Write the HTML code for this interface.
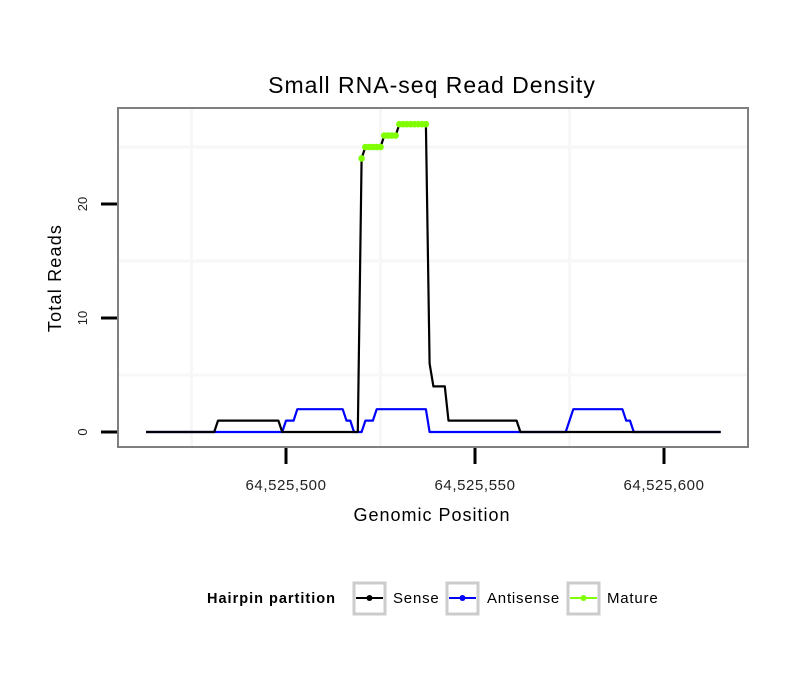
<!DOCTYPE html>
<html><head><meta charset="utf-8"><style>
body{margin:0;background:#fff;}
svg text{font-family:"Liberation Sans",sans-serif;}
</style></head><body>
<svg id="chart" width="810" height="690" xmlns="http://www.w3.org/2000/svg">
<rect width="810" height="690" fill="#fff"/>
<text x="432" y="93" text-anchor="middle" font-size="23" letter-spacing="1" fill="#000">Small RNA-seq Read Density</text>
<g id="grid"></g>
<g id="series"></g>
<rect x="118" y="108" width="630" height="339" fill="none" stroke="#7f7f7f" stroke-width="2"/>
<g id="axes"></g>
<text x="432" y="521" text-anchor="middle" font-size="18" letter-spacing="1">Genomic Position</text>
<text transform="translate(61,278) rotate(-90)" text-anchor="middle" font-size="18" letter-spacing="1.2">Total Reads</text>
<g>
<text x="207" y="603" font-size="14.5" letter-spacing="1" font-weight="bold">Hairpin partition</text>
<g>
<rect x="354" y="583" width="31" height="31" fill="#fff" stroke="#ccc" stroke-width="3"/>
<line x1="356" y1="598" x2="383" y2="598" stroke="#000" stroke-width="2"/><circle cx="369.5" cy="598" r="3" fill="#000"/>
<text x="393" y="603" font-size="15" letter-spacing="0.8">Sense</text></g>
<g>
<rect x="447" y="583" width="31" height="31" fill="#fff" stroke="#ccc" stroke-width="3"/>
<line x1="449" y1="598" x2="476" y2="598" stroke="#0000ff" stroke-width="2"/><circle cx="462.5" cy="598" r="3" fill="#0000ff"/>
<text x="487" y="603" font-size="15" letter-spacing="0.8">Antisense</text></g>
<g>
<rect x="568" y="583" width="31" height="31" fill="#fff" stroke="#ccc" stroke-width="3"/>
<line x1="570" y1="598" x2="597" y2="598" stroke="#7fff00" stroke-width="2"/><circle cx="583.5" cy="598" r="3" fill="#7fff00"/>
<text x="607" y="603" font-size="15" letter-spacing="0.8">Mature</text></g>
</g>
</svg>
<script>
const BASE = 64525000;
const senseX = [463,481,482,498,499,519,520,521,525,526,529,530,537,538,539,542,543,561,562,615];
const senseY = [0,0,1,1,0,0,24,25,25,26,26,27,27,6,4,4,1,1,0,0];
const antiX = [463,499,500,502,503,515,516,517,518,520,521,523,524,537,538,574,576,589,590,591,592,615];
const antiY = [0,0,1,1,2,2,1,1,0,0,1,1,2,2,0,0,2,2,1,1,0,0];
const matureX = [520,521,522,523,524,525,526,527,528,529,530,531,532,533,534,535,536,537];
const matureY = [24,25,25,25,25,25,26,26,26,26,27,27,27,27,27,27,27,27];
const xTicks = [500,550,600];
const xTickLabels = ["64,525,500","64,525,550","64,525,600"];
const yTicks = [0,10,20];
const xMinor = [475,525,575];
const yMinor = [5,15,25];

const NS="http://www.w3.org/2000/svg";
function xs(v){return 286+(v-500)*3.78;}
function ys(v){return 432-v*11.4;}
function mk(tag,attrs,parent){const e=document.createElementNS(NS,tag);for(const k in attrs)e.setAttribute(k,attrs[k]);parent.appendChild(e);return e;}
const grid=document.getElementById('grid'),series=document.getElementById('series'),axes=document.getElementById('axes');
xMinor.forEach(v=>{const l=mk('line',{x1:xs(v),x2:xs(v),y1:109,y2:446,stroke:'#f7f7f7','stroke-width':3},grid);

});
yMinor.forEach(v=>{const l=mk('line',{x1:119,x2:747,y1:ys(v),y2:ys(v),stroke:'#f7f7f7','stroke-width':3},grid);

});
function line(X,Y,color,name){const p=X.map((x,i)=>xs(x).toFixed(1)+','+ys(Y[i]).toFixed(1)).join(' ');
const e=mk('polyline',{points:p,fill:'none',stroke:color,'stroke-width':2.2,'stroke-linejoin':'round'},series);

}
line(antiX,antiY,'#0000ff','antisense-line');
line(senseX,senseY,'#000','sense-line');
for(let i=1;i<matureX.length;i++){if(matureY[i]===matureY[i-1]){const e=mk('line',{x1:xs(matureX[i-1]),x2:xs(matureX[i]),y1:ys(matureY[i]),y2:ys(matureY[i]),stroke:'#7fff00','stroke-width':2.5},series);

}}
matureX.forEach((x,i)=>{const c=mk('circle',{cx:xs(x),cy:ys(matureY[i]),r:3.3,fill:'#7fff00'},series);

});
xTicks.forEach((v,i)=>{const t=mk('line',{x1:xs(v),x2:xs(v),y1:448,y2:464,stroke:'#000','stroke-width':3},axes);


const tx=mk('text',{x:xs(v),y:490,'text-anchor':'middle','font-size':15,'letter-spacing':0.6,fill:'#222'},axes);tx.textContent=xTickLabels[i];

});
yTicks.forEach(v=>{const t=mk('line',{x1:101,x2:117,y1:ys(v),y2:ys(v),stroke:'#000','stroke-width':3},axes);


const tx=mk('text',{transform:`translate(87,${ys(v)}) rotate(-90)`,'text-anchor':'middle','font-size':13,fill:'#222'},axes);tx.textContent=String(v);

});
</script>
</body></html>
